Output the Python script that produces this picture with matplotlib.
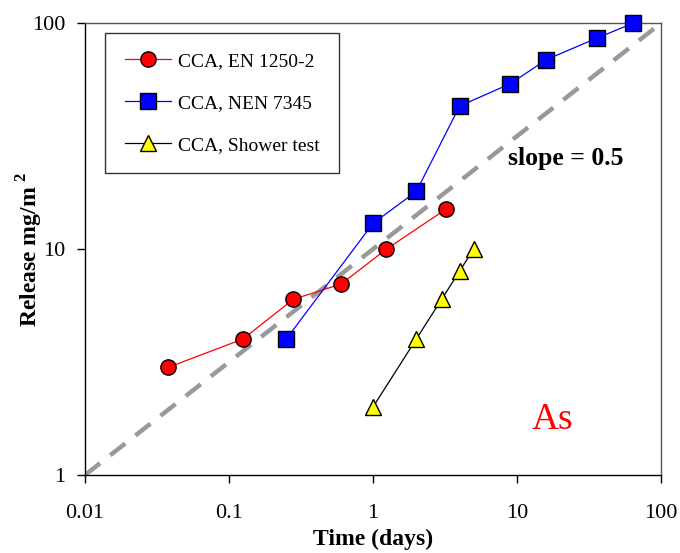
import matplotlib
matplotlib.use("Agg")
import matplotlib.pyplot as plt
from matplotlib.ticker import FixedLocator, NullLocator, FixedFormatter

plt.rcParams['font.family'] = ['Liberation Serif', 'DejaVu Serif']
plt.rcParams['mathtext.fontset'] = 'custom'
plt.rcParams['mathtext.rm'] = 'Liberation Serif'
plt.rcParams['mathtext.bf'] = 'Liberation Serif:bold'

# Release data (time in days, release in mg/m2)
en_time = [0.038, 0.125, 0.28, 0.6, 1.24, 3.2]
en_release = [3.0, 4.0, 6.0, 7.0, 10.0, 15.0]

nen_time = [0.25, 1.0, 2.0, 4.0, 9.0, 16.0, 36.0, 64.0]
nen_release = [4.0, 13.0, 18.0, 43.0, 54.0, 69.0, 86.0, 100.0]

shower_time = [1.0, 2.0, 3.0, 4.0, 5.0]
shower_release = [2.0, 4.0, 6.0, 8.0, 10.0]

slope_time = [0.01, 100.0]
slope_release = [1.0, 100.0]

x_ticks = [0.01, 0.1, 1, 10, 100]
x_tick_labels = ["0.01", "0.1", "1", "10", "100"]
y_ticks = [1, 10, 100]
y_tick_labels = ["1", "10", "100"]

fig = plt.figure(figsize=(6.8, 5.53), dpi=100)
ax = fig.add_axes([0.125, 0.141, 0.847, 0.817])
ax.set_xscale('log')
ax.set_yscale('log')
ax.set_xlim(0.01, 100)
ax.set_ylim(1, 100)

ax.plot(slope_time, slope_release, color='#999999', lw=3.2,
        linestyle=(0, (4.3, 2.9)), zorder=1, clip_on=True)

ax.plot(en_time, en_release, color='red', lw=0.9, marker='o', ms=11,
        mfc='red', mec='black', mew=1.0, label='CCA, EN 1250-2', zorder=3,
        clip_on=False)
ax.plot(nen_time, nen_release, color='blue', lw=0.9, marker='s', ms=11,
        mfc='blue', mec='black', mew=1.0, label='CCA, NEN 7345', zorder=3,
        clip_on=False)
ax.plot(shower_time, shower_release, color='black', lw=0.9, marker='^', ms=11,
        mfc='yellow', mec='black', mew=1.0, label='CCA, Shower test', zorder=3,
        clip_on=False)

ax.xaxis.set_major_locator(FixedLocator(x_ticks))
ax.xaxis.set_major_formatter(FixedFormatter(x_tick_labels))
ax.yaxis.set_major_locator(FixedLocator(y_ticks))
ax.yaxis.set_major_formatter(FixedFormatter(y_tick_labels))
ax.xaxis.set_minor_locator(NullLocator())
ax.yaxis.set_minor_locator(NullLocator())
ax.tick_params(axis='both', which='major', direction='out', length=6,
               width=1, labelsize=16, colors='black')
ax.tick_params(axis='x', pad=15)
ax.tick_params(axis='y', pad=8)

for side in ('left', 'bottom'):
    ax.spines[side].set_color('black')
    ax.spines[side].set_linewidth(1.0)
for side in ('top', 'right'):
    ax.spines[side].set_color('#555555')
    ax.spines[side].set_linewidth(1.0)

ax.set_xlabel('Time (days)', fontsize=17, fontweight='bold', labelpad=4)
ax.set_ylabel(r'Release mg/m$^{\mathbf{\ 2}}$', fontsize=17, fontweight='bold')
ax.yaxis.set_label_coords(-0.07, 0.5)

ax.text(0.734, 0.70, 'slope = 0.5', transform=ax.transAxes, fontsize=18.5,
        fontweight='bold', ha='left', va='center')
ax.text(0.811, 0.122, 'As', transform=ax.transAxes, fontsize=27,
        color='red', ha='center', va='center')

leg = ax.legend(loc='upper left', bbox_to_anchor=(0.035, 0.978),
                fontsize=14, frameon=True, fancybox=False, shadow=False,
                handlelength=2.4, handletextpad=0.35, labelspacing=1.25,
                borderpad=1.0, borderaxespad=0)
leg.get_frame().set_edgecolor('black')
leg.get_frame().set_linewidth(1.0)

fig.savefig('out.png', dpi=100)
